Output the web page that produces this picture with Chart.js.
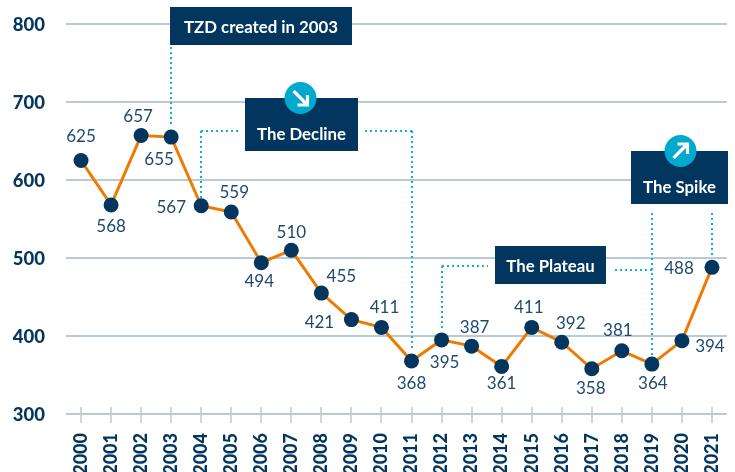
<!DOCTYPE html>
<html>
<head>
<meta charset="utf-8">
<style>
  html, body { margin: 0; padding: 0; background: #fff; overflow: hidden; }
  #wrap { position: relative; width: 735px; height: 472px; }
</style>
<script src="https://cdn.jsdelivr.net/npm/chart.js@4"></script>
</head>
<body>
<div id="wrap"><canvas id="chart" width="735" height="472"></canvas></div>
<script>
const years = ['2000','2001','2002','2003','2004','2005','2006','2007','2008','2009','2010','2011','2012','2013','2014','2015','2016','2017','2018','2019','2020','2021'];
const values = [625,568,657,655,567,559,494,510,455,421,411,368,395,387,361,411,392,358,381,364,394,488];
const yTicks = [300,400,500,600,700,800];

// where each number sits relative to its point
const labelDx = [0,0,-3,-12,-30,3,-2,0,20,-32,3,0,3,3,0,-3,9,-1,-4,1,28,-33];
const labelDy = [-25,21,-20,21,1,-20,18,-19,-18,2,-21,22,22,-20,16,-21,-20,19,-21,18,5,0];

const navy = '#03365f';
const textBlue = '#1f4a70';
const orange = '#ef7a00';
const gridColor = '#b9cad4';
const cyan = '#00a9cd';
const dotted = '#0fb2d2';

// dotted leader lines: [year, value] to [year, value]
const leaders = [
  [['2003', 783], ['2003', 668]],
  [['2004', 663], ['2004', 576]],
  [['2011', 663], ['2011', 381]],
  [['2012', 490], ['2012', 410]],
  [['2019', 558], ['2019', 376]],
  [['2021', 558], ['2021', 502]]
];
// horizontal runs: from a year's x along a value to a pixel next to the box
const leaderRuns = [
  ['2004', 663, 240],
  ['2011', 663, 363],
  ['2012', 490, 488],
  ['2019', 485, 612]
];

const boxes = [
  { text: 'TZD created in 2003', left: 170, top: 7, w: 182, h: 38, textY: 28 },
  { text: 'The Decline', left: 245, top: 98, w: 113, h: 53, textY: 135, icon: 'down' },
  { text: 'The Plateau', left: 495, top: 246, w: 111, h: 38, textY: 267 },
  { text: 'The Spike', left: 631, top: 151, w: 97, h: 53, textY: 188, icon: 'up' }
];

function drawArrow(c, cx, cy, dir) {
  c.save();
  c.translate(cx, cy);
  if (dir === 'down') c.scale(1, -1);
  c.strokeStyle = '#fff';
  c.lineWidth = 3.2;
  c.beginPath();
  c.moveTo(-7, 7);
  c.lineTo(6, -6);
  c.moveTo(-3, -7);
  c.lineTo(7, -7);
  c.lineTo(7, 3);
  c.stroke();
  c.restore();
}

const decorations = {
  id: 'decorations',
  beforeDatasetsDraw(chart) {
    const c = chart.ctx, x = chart.scales.x, y = chart.scales.y;
    const xOf = function (yr) { return Math.round(x.getPixelForValue(years.indexOf(yr))); };
    const yOf = function (v) { return Math.round(y.getPixelForValue(v)); };
    // ticks cross the bottom axis line
    c.save();
    c.strokeStyle = gridColor;
    c.lineWidth = 1.5;
    years.forEach(function (yr) {
      c.beginPath();
      c.moveTo(xOf(yr), y.bottom - 7);
      c.lineTo(xOf(yr), y.bottom + 9);
      c.stroke();
    });
    // dotted leaders
    c.strokeStyle = dotted;
    c.lineWidth = 2;
    c.setLineDash([2, 3]);
    leaders.forEach(function (l) {
      c.beginPath();
      c.moveTo(xOf(l[0][0]), yOf(l[0][1]));
      c.lineTo(xOf(l[1][0]), yOf(l[1][1]));
      c.stroke();
    });
    leaderRuns.forEach(function (r) {
      c.beginPath();
      c.moveTo(xOf(r[0]), yOf(r[1]));
      c.lineTo(r[2], yOf(r[1]));
      c.stroke();
    });
    c.restore();
  },
  afterDatasetsDraw(chart) {
    const c = chart.ctx, meta = chart.getDatasetMeta(0);
    c.save();
    c.textAlign = 'center';
    c.textBaseline = 'middle';
    c.fillStyle = textBlue;
    c.font = '17px Lato';
    meta.data.forEach(function (pt, i) {
      c.fillText(values[i], pt.x + labelDx[i], pt.y + labelDy[i] + 1);
    });
    boxes.forEach(function (b) {
      c.fillStyle = navy;
      c.fillRect(b.left, b.top, b.w, b.h);
      c.fillStyle = '#fff';
      c.font = 'bold 16.8px Lato';
      c.fillText(b.text, b.left + b.w / 2, b.textY);
      if (b.icon) {
        const cx = b.left + b.w / 2 + (b.icon === 'up' ? 1 : -1);
        c.fillStyle = cyan;
        c.beginPath();
        c.arc(cx, b.top, 16, 0, Math.PI * 2);
        c.fill();
        drawArrow(c, cx, b.top, b.icon);
      }
    });
    c.restore();
  }
};

new Chart(document.getElementById('chart'), {
  type: 'line',
  data: {
    labels: years,
    datasets: [{
      data: values,
      borderColor: orange,
      borderWidth: 3,
      tension: 0,
      pointRadius: 7.5,
      pointHoverRadius: 7.5,
      pointBackgroundColor: navy,
      pointBorderWidth: 0
    }]
  },
  options: {
    responsive: false,
    animation: false,
    layout: { padding: { top: 24, right: 8, left: 0, bottom: 0 } },
    plugins: { legend: { display: false }, tooltip: { enabled: false } },
    scales: {
      x: {
        offset: true,
        afterFit(s) { s.height = 58; s.paddingLeft = 0; s.paddingRight = 0; },
        grid: { display: false },
        border: { display: false },
        ticks: {
          autoSkip: false,
          minRotation: 90,
          maxRotation: 90,
          padding: 11,
          color: navy,
          font: { family: 'Lato', weight: '900', size: 18 }
        }
      },
      y: {
        min: 300,
        max: 800,
        afterFit(s) { s.width = 66; s.paddingTop = 0; s.paddingBottom = 0; },
        afterBuildTicks(s) { s.ticks = yTicks.map(function (v) { return { value: v }; }); },
        grid: { color: gridColor, lineWidth: 2, drawTicks: false },
        border: { display: false },
        ticks: {
          padding: 21,
          labelOffset: 1.5,
          color: navy,
          font: { family: 'Lato', weight: '900', size: 18.5 }
        }
      }
    }
  },
  plugins: [decorations]
});
</script>
</body>
</html>
